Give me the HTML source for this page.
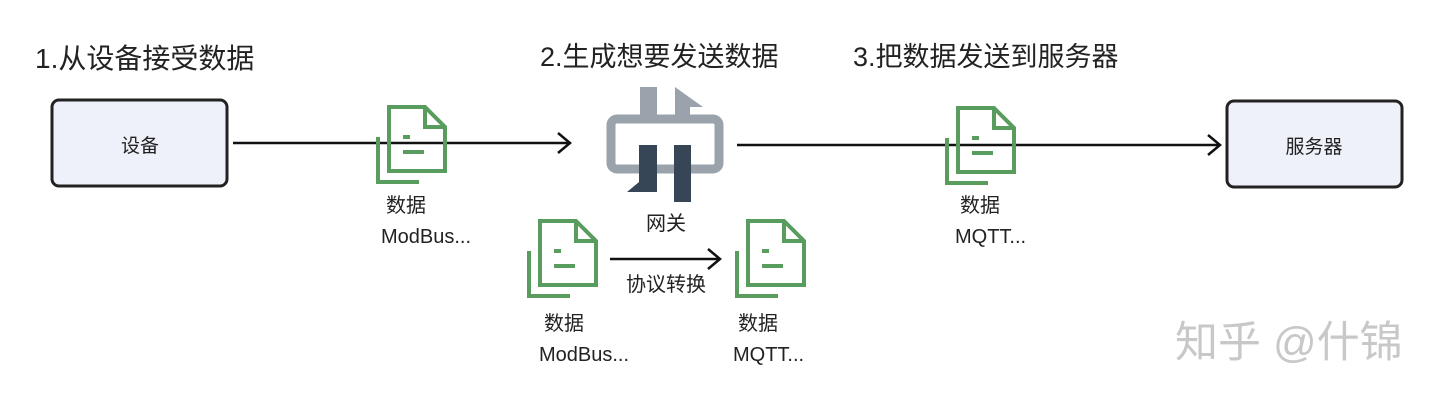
<!DOCTYPE html>
<html><head><meta charset="utf-8"><style>
html,body{margin:0;padding:0;background:#fff;}
svg{display:block;font-family:"Liberation Sans","Noto Sans CJK SC",sans-serif;}
</style></head><body>
<svg width="1440" height="402" viewBox="0 0 1440 402">
<defs>
<g id="doc" fill="none" stroke="#589d5e" stroke-width="4">
<path d="M0,2 V66 H56 V22 L36,2 Z M36,2 V22 H56"/>
<path d="M-11,32 V77 H30"/>
<path d="M14,32 H21 M14,47 H35"/>
</g>
</defs>
<g fill="#222" font-size="27">
<text x="35" y="68" font-size="28">1.从设备接受数据</text>
<text x="540" y="66">2.生成想要发送数据</text>
<text x="853" y="66">3.把数据发送到服务器</text>
</g>
<rect x="52" y="100" width="175" height="86" rx="7" fill="#eef1fa" stroke="#222" stroke-width="3"/>
<text x="140" y="152" font-size="19" text-anchor="middle" fill="#222">设备</text>
<rect x="1227" y="101" width="175" height="86" rx="7" fill="#eef1fa" stroke="#222" stroke-width="3"/>
<text x="1314" y="153" font-size="19" text-anchor="middle" fill="#222">服务器</text>
<g stroke="#111" stroke-width="2.5" fill="none">
<path d="M233,143 H570 M558,133 L570,143 L558,153"/>
<path d="M737,145 H1220 M1208,135 L1220,145 L1208,155"/>
<path d="M610,259 H720 M708,249 L720,259 L708,269"/>
</g>
<use href="#doc" x="389" y="105"/>
<use href="#doc" x="540" y="219"/>
<use href="#doc" x="748" y="219"/>
<use href="#doc" x="958" y="106"/>
<rect x="611" y="119" width="108" height="50" rx="6" fill="none" stroke="#9aa3ac" stroke-width="9"/>
<rect x="640" y="87" width="17" height="30" fill="#9aa3ac"/>
<path d="M675,87 L703,107 H690 V117 H675 Z" fill="#9aa3ac"/>
<path d="M639,145 H657 V192 H627 L639,182 Z" fill="#364656"/>
<rect x="674" y="145" width="17" height="57" fill="#364656"/>
<g fill="#222" font-size="20">
<text x="666" y="230" text-anchor="middle">网关</text>
<text x="666" y="291" text-anchor="middle">协议转换</text>
<text x="386" y="212">数据</text>
<text x="381" y="243">ModBus...</text>
<text x="544" y="330">数据</text>
<text x="539" y="361">ModBus...</text>
<text x="738" y="330">数据</text>
<text x="733" y="361">MQTT...</text>
<text x="960" y="212">数据</text>
<text x="955" y="243">MQTT...</text>
</g>
<text x="1175" y="357" font-size="43" fill="#c8c8c8">知乎 @什锦</text>
</svg>
</body></html>
